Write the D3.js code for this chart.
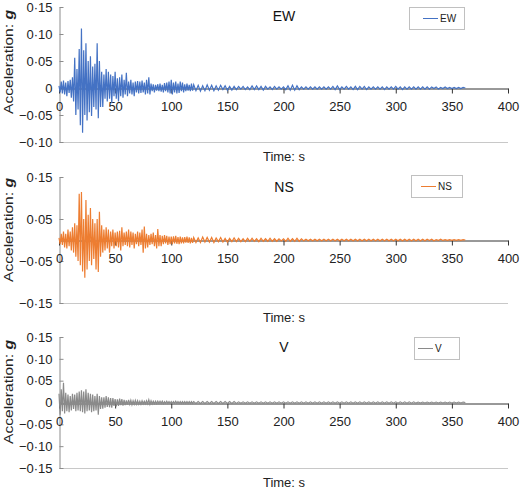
<!DOCTYPE html>
<html>
<head>
<meta charset="utf-8">
<script src="https://cdn.jsdelivr.net/npm/d3@7"></script>
<style>
  body { margin: 0; background: #fff; }
  svg { display: block; font-family: "Liberation Sans", Arial, sans-serif; }
</style>
</head>
<body>
<svg id="chart" width="520" height="491"></svg>
<script>
// Peak values: one per second for 0-119 s,
// then one every 2 s from 120 s to 362 s
const earlyStep = 1;
const tailStart = 120;
const tailStep = 2;

const ewEarly = [
  0.004,-0.008,0.012,-0.010,0.014,-0.012,0.010,-0.015,0.013,-0.009,
  0.015,-0.018,0.020,-0.025,0.056,-0.050,0.035,-0.040,0.072,-0.069,
  0.110,-0.083,0.070,-0.050,0.083,-0.060,0.050,-0.045,0.059,-0.052,
  0.040,-0.035,0.045,-0.040,0.083,-0.056,0.050,-0.035,0.030,-0.035,
  0.025,-0.020,0.035,-0.025,0.030,-0.020,0.025,-0.028,0.022,-0.015,
  0.030,-0.020,0.018,-0.025,0.020,-0.015,0.025,-0.018,0.015,-0.012,
  0.028,-0.015,0.012,-0.010,0.015,-0.012,0.010,-0.015,0.012,-0.008,
  0.013,-0.010,0.012,-0.009,0.014,-0.008,0.010,-0.012,0.015,-0.010,
  0.020,-0.012,0.008,-0.006,0.007,-0.008,0.006,-0.005,0.007,-0.006,
  0.008,-0.007,0.006,-0.008,0.009,-0.006,0.010,-0.008,0.012,-0.010,
  0.015,-0.012,0.010,-0.008,0.012,-0.010,0.008,-0.009,0.012,-0.006,
  0.010,-0.008,0.007,-0.006,0.008,-0.005,0.006,-0.006,0.008,-0.005
];
const ewTail = [
  0.006,-0.005,0.005,-0.006,0.004,-0.005,0.006,-0.004,0.005,-0.005,0.004,-0.004,0.005,-0.003,0.004,-0.004,0.003,-0.004,0.003,-0.003,
  0.003,-0.002,0.003,-0.003,0.002,-0.003,0.004,-0.003,0.004,-0.003,0.003,-0.004,0.003,-0.002,0.002,-0.003,0.003,-0.002,0.002,-0.002,
  0.002,-0.003,0.004,-0.004,0.005,-0.004,0.004,-0.003,0.002,-0.002,0.002,-0.002,0.002,-0.002,0.002,-0.002,0.002,-0.002,0.002,-0.002,
  0.002,-0.002,0.003,-0.003,0.004,-0.003,0.002,-0.002,0.003,-0.002,0.002,-0.003,0.003,-0.003,0.003,-0.002,0.003,-0.003,0.002,-0.002,
  0.002,-0.002,0.002,-0.002,0.002,-0.003,0.002,-0.002,0.002,-0.002,0.003,-0.002,0.002,-0.003,0.002,-0.002,0.002,-0.002,0.002,-0.002,
  0.002,-0.002,0.002,-0.002,0.002,-0.002,0.002,-0.001,0.002,-0.002,0.001,-0.001,0.002,-0.001,0.001,-0.001,0.001,-0.001,0.001,-0.001,0.001,0
];

const nsEarly = [
  0.005,-0.010,0.015,-0.012,0.020,-0.018,0.015,-0.020,0.025,-0.015,
  0.020,-0.025,0.030,-0.030,0.040,-0.040,0.035,-0.050,0.110,-0.060,
  0.114,-0.075,0.050,-0.090,0.095,-0.070,0.060,-0.050,0.076,-0.060,
  0.050,-0.045,0.040,-0.070,0.050,-0.076,0.067,-0.040,0.035,-0.030,
  0.025,-0.025,0.030,-0.020,0.025,-0.030,0.020,-0.015,0.025,-0.020,
  0.018,-0.015,0.020,-0.018,0.022,-0.025,0.030,-0.015,0.018,-0.012,
  0.020,-0.015,0.025,-0.018,0.020,-0.012,0.018,-0.020,0.015,-0.010,
  0.020,-0.015,0.018,-0.012,0.025,-0.030,0.032,-0.020,0.015,-0.018,
  0.012,-0.012,0.015,-0.010,0.018,-0.015,0.012,-0.020,0.026,-0.015,
  0.012,-0.015,0.010,-0.010,0.012,-0.008,0.010,-0.012,0.008,-0.010,
  0.008,-0.010,0.009,-0.008,0.010,-0.009,0.007,-0.010,0.008,-0.008,
  0.006,-0.008,0.007,-0.006,0.008,-0.007,0.006,-0.008,0.005,-0.007
];
const nsTail = [
  0.006,-0.006,0.005,-0.006,0.007,-0.005,0.006,-0.005,0.006,-0.006,0.005,-0.004,0.006,-0.005,0.004,-0.005,0.004,-0.004,0.005,-0.004,
  0.004,-0.004,0.003,-0.004,0.004,-0.003,0.004,-0.003,0.003,-0.004,0.004,-0.003,0.003,-0.003,0.004,-0.003,0.003,-0.003,0.003,-0.002,
  0.003,-0.003,0.004,-0.003,0.003,-0.003,0.004,-0.003,0.003,-0.002,0.002,-0.002,0.002,-0.002,0.002,-0.002,0.002,-0.002,0.002,-0.002,
  0.002,-0.002,0.002,-0.002,0.002,-0.002,0.002,-0.002,0.002,-0.002,0.002,-0.002,0.002,-0.002,0.002,-0.002,0.002,-0.002,0.002,-0.002,
  0.002,-0.002,0.002,-0.002,0.002,-0.002,0.002,-0.002,0.002,-0.002,0.002,-0.002,0.002,-0.002,0.002,-0.002,0.002,-0.002,0.002,-0.002,
  0.002,-0.002,0.002,-0.002,0.002,-0.001,0.002,-0.002,0.001,-0.001,0.002,-0.001,0.001,-0.001,0.001,-0.001,0.001,-0.001,0.001,-0.001,0.001,0
];

const vEarly = [
  0.020,-0.028,0.030,-0.020,0.045,-0.025,0.022,-0.020,0.018,-0.022,
  0.015,-0.018,0.020,-0.015,0.018,-0.020,0.022,-0.018,0.025,-0.020,
  0.028,-0.022,0.025,-0.025,0.030,-0.020,0.022,-0.018,0.020,-0.022,
  0.018,-0.020,0.015,-0.018,0.020,-0.028,0.015,-0.015,0.012,-0.014,
  0.012,-0.012,0.015,-0.010,0.012,-0.011,0.010,-0.012,0.010,-0.008,
  0.008,-0.009,0.007,-0.008,0.009,-0.006,0.008,-0.007,0.006,-0.006,
  0.005,-0.005,0.006,-0.004,0.005,-0.005,0.004,-0.004,0.005,-0.004,
  0.004,-0.004,0.003,-0.004,0.004,-0.003,0.003,-0.003,0.004,-0.003,
  0.006,-0.004,0.004,-0.003,0.003,-0.003,0.003,-0.003,0.003,-0.002,
  0.003,-0.002,0.003,-0.003,0.002,-0.002,0.003,-0.002,0.002,-0.002,
  0.002,-0.002,0.002,-0.002,0.003,-0.002,0.002,-0.002,0.002,-0.002,
  0.002,-0.002,0.002,-0.002,0.002,-0.002,0.002,-0.002,0.002,-0.002
];
const vTail = [
  0.002,-0.002,0.002,-0.002,0.002,-0.002,0.002,-0.002,0.002,-0.002,0.002,-0.002,0.002,-0.002,0.002,-0.002,0.002,-0.002,0.002,-0.002,
  0.0015,-0.0015,0.0015,-0.0015,0.0015,-0.0015,0.0015,-0.0015,0.0015,-0.0015,0.0015,-0.0015,0.0015,-0.0015,0.0015,-0.0015,0.0015,-0.0015,0.0015,-0.0015,
  0.0015,-0.0015,0.0015,-0.0015,0.0015,-0.0015,0.0015,-0.0015,0.0015,-0.0015,0.0015,-0.0015,0.0015,-0.0015,0.0015,-0.0015,0.0015,-0.0015,0.0015,-0.0015,
  0.0015,-0.0015,0.0015,-0.0015,0.0015,-0.0015,0.0015,-0.0015,0.0015,-0.0015,0.0015,-0.0015,0.0015,-0.0015,0.0015,-0.0015,0.0015,-0.0015,0.0015,-0.0015,
  0.0015,-0.0015,0.0015,-0.0015,0.0015,-0.0015,0.0015,-0.0015,0.0015,-0.0015,0.0015,-0.0015,0.0015,-0.0015,0.0015,-0.0015,0.0015,-0.0015,0.0015,-0.0015,
  0.001,-0.001,0.001,-0.001,0.001,-0.001,0.001,-0.001,0.001,-0.001,0.001,-0.001,0.001,-0.001,0.001,-0.001,0.001,-0.001,0.001,-0.001,0.001,0
];

// Axis ticks
const timeTicks = [0, 50, 100, 150, 200, 250, 300, 350, 400];
const ewYTicks = [-0.10, -0.05, 0, 0.05, 0.10, 0.15];
const nsYTicks = [-0.15, -0.05, 0.05, 0.15];
const vYTicks = [-0.15, -0.10, -0.05, 0, 0.05, 0.10, 0.15];

const toPoints = (early, tail) => [
  ...early.map((v, i) => [i * earlyStep, v]),
  ...tail.map((v, i) => [tailStart + i * tailStep, v])
];

const panels = [
  { name: 'EW', color: '#4472c4', points: toPoints(ewEarly, ewTail), domain: [-0.10, 0.15], yTicks: ewYTicks,
    top: 7, bottom: 142, titleY: 21, labelY: 62, timeY: 161, legend: { x: 409, y: 7, w: 55, h: 22 } },
  { name: 'NS', color: '#ed7d31', points: toPoints(nsEarly, nsTail), domain: [-0.15, 0.15], yTicks: nsYTicks,
    top: 177, bottom: 303, titleY: 192, labelY: 230, timeY: 322, legend: { x: 411, y: 175, w: 51, h: 22 } },
  { name: 'V', color: '#8a8a8a', points: toPoints(vEarly, vTail), domain: [-0.15, 0.15], yTicks: vYTicks,
    top: 337, bottom: 468, titleY: 352, labelY: 392, timeY: 487, legend: { x: 414, y: 337, w: 45, h: 22 } }
];

const svg = d3.select('#chart');
const left = 59, right = 508;
const x = d3.scaleLinear().domain([0, 400]).range([left, right]);

// tick label style: 0·15, −0·05
const fmt = d => d === 0 ? '0' : d3.format('.2f')(d).replace('.', '·').replace('-', '−');

panels.forEach(p => {
  const y = d3.scaleLinear().domain(p.domain).range([p.bottom, p.top]);
  const g = svg.append('g');

  // plot area bottom border
  g.append('line')
    .attr('x1', left).attr('x2', right)
    .attr('y1', p.bottom + 0.5).attr('y2', p.bottom + 0.5)
    .attr('stroke', '#c8c8c8');

  // y axis
  const yAxis = g.append('g')
    .attr('transform', `translate(${left + 0.5},0)`)
    .call(d3.axisLeft(y).tickValues(p.yTicks).tickFormat(fmt).tickSizeInner(-4).tickSizeOuter(0).tickPadding(7));
  yAxis.select('.domain').attr('stroke', '#8c8c8c');
  yAxis.selectAll('.tick line').attr('stroke', '#8c8c8c');
  yAxis.selectAll('text').attr('font-size', 13).attr('font-family', null).attr('fill', '#222');

  // x axis along zero
  const y0 = Math.round(y(0)) + 0.5;
  const xAxis = g.append('g')
    .attr('transform', `translate(0,${y0})`)
    .call(d3.axisBottom(x).tickValues(timeTicks).tickSizeInner(5).tickSizeOuter(0).tickPadding(8));
  xAxis.select('.domain').attr('stroke', '#333');
  xAxis.selectAll('.tick line').attr('stroke', '#333');
  xAxis.selectAll('text').attr('font-size', 13).attr('font-family', null).attr('fill', '#222');

  // trace
  const line = d3.line().x(d => x(d[0])).y(d => y(d[1]));
  g.append('path')
    .datum(p.points)
    .attr('d', line)
    .attr('fill', 'none')
    .attr('stroke', p.color)
    .attr('stroke-width', 1.2);

  // title
  g.append('text')
    .attr('x', 284).attr('y', p.titleY)
    .attr('text-anchor', 'middle')
    .attr('font-size', 14)
    .attr('fill', '#111')
    .text(p.name);

  // legend
  const lg = g.append('g').attr('transform', `translate(${p.legend.x},${p.legend.y})`);
  lg.append('rect')
    .attr('x', 0.5).attr('y', 0.5)
    .attr('width', p.legend.w).attr('height', p.legend.h)
    .attr('fill', '#fff').attr('stroke', '#c0c0c0');
  lg.append('line')
    .attr('x1', p.legend.w - 41).attr('x2', p.legend.w - 26)
    .attr('y1', 11.5).attr('y2', 11.5)
    .attr('stroke', p.color);
  lg.append('text')
    .attr('x', p.legend.w - 24).attr('y', 15)
    .attr('font-size', 10)
    .attr('fill', '#222')
    .text(p.name);

  // axis titles
  g.append('text')
    .attr('x', 284).attr('y', p.timeY)
    .attr('text-anchor', 'middle')
    .attr('font-size', 13)
    .attr('fill', '#222')
    .text('Time: s');

  const yl = g.append('text')
    .attr('transform', `translate(13,${p.labelY}) rotate(-90)`)
    .attr('text-anchor', 'middle')
    .attr('font-size', 13)
    .attr('textLength', 104)
    .attr('lengthAdjust', 'spacingAndGlyphs')
    .attr('fill', '#222');
  yl.append('tspan').text('Acceleration: ');
  yl.append('tspan').attr('font-weight', 'bold').attr('font-style', 'italic').text('g');
});
</script>
</body>
</html>
